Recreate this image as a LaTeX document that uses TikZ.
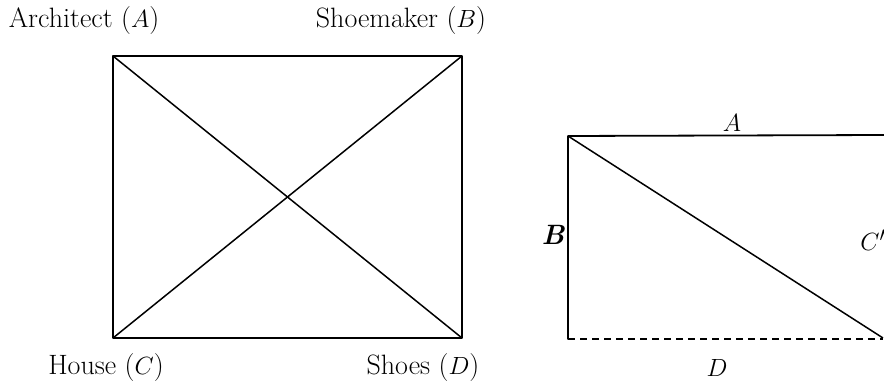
\documentclass[tikz,border=0pt]{standalone}
\usetikzlibrary{positioning}
\begin{document}
\begin{tikzpicture}[
    x=1pt, y=-1pt,
    % --- Styles ---
    name node/.style={font=\fontsize{28}{32}\selectfont, inner sep=0pt, anchor=center},
    letter node/.style={font=\fontsize{28}{32}\selectfont, inner sep=0pt, anchor=center},
    % Solid strokes of both figures
    edge line/.style={draw=black, line width=1.8pt, line cap=round, line join=round},
    % Thinner crossing lines
    cross line/.style={draw=black, line width=1.5pt},
    % Missing side of the right figure
    open line/.style={draw=black, line width=1.5pt, dash pattern=on 7pt off 5pt}
]

%================CONFIGURATION================
% Square: left, right, top, bottom
\def\sqL{113} \def\sqR{462}
\def\sqT{56}  \def\sqB{338}
% Rectangle: left, right, top, bottom
\def\reL{568} \def\reR{883}
\def\reT{136} \def\reB{339}
%=============================================

\useasboundingbox (0,0) rectangle (884,385);

% --- 1. Square of the four parties ---
\coordinate (A) at (\sqL, \sqT);
\coordinate (B) at (\sqR, \sqT);
\coordinate (C) at (\sqL, \sqB);
\coordinate (D) at (\sqR, \sqB);

\draw[edge line] (A) -- (B) -- (D) -- (C) -- cycle;
\draw[cross line] (A) -- (D);
\draw[cross line] (B) -- (C);

\node[name node] (archA) at (84, 21) {Architect ($A$)};
\node[name node] (shoeB) at (401, 21) {Shoemaker ($B$)};
\node[name node] (housC) at (106, 368) {House ($C$)};
\node[name node] (shoeD) at (423, 368) {Shoes ($D$)};

% --- 2. Rectangle with one open side ---
\coordinate (rTL) at (\reL, \reT);
\coordinate (rTR) at (884, 135);
\coordinate (rBL) at (\reL, \reB);
\coordinate (rBR) at (\reR, \reB);
\coordinate (rEnd) at (\reR, 338);

\draw[edge line] (rTR) -- (rTL) -- (rBL);
\draw[open line] (rBL) -- (rBR);
\draw[cross line] (rTL) -- (rEnd);

\node[letter node] (sideA) at (732, 123) {$A$};
\node[letter node] (sideB) at (553, 235) {\bfseries\itshape B};
\node[letter node] (sideC) at (873, 240) {$C'$};
\node[letter node] (sideD) at (717, 368) {$D$};

\end{tikzpicture}
\end{document}
